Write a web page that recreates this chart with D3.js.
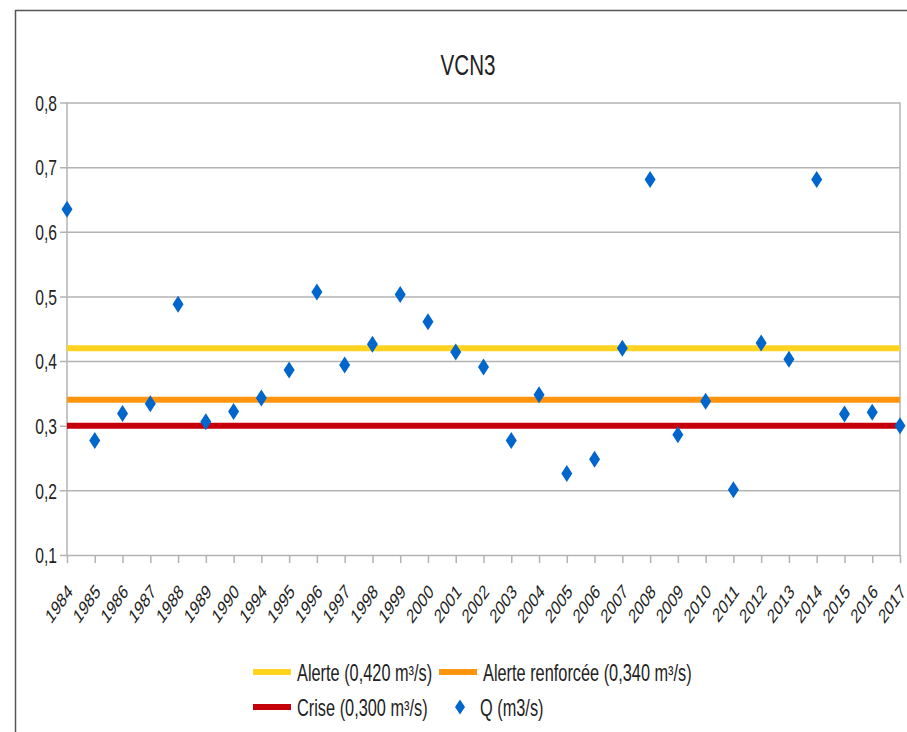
<!DOCTYPE html>
<html>
<head>
<meta charset="utf-8">
<script src="https://cdn.jsdelivr.net/npm/d3@7"></script>
<style>
  body { margin: 0; background: #fff; }
  text { font-family: "Liberation Sans", Arial, sans-serif; fill: #222; }
</style>
</head>
<body>
<div id="chart"></div>
<script>
// categories (years 1991-1993 are missing in the source)
var years = ['1984','1985','1986','1987','1988','1989','1990','1994','1995','1996',
  '1997','1998','1999','2000','2001','2002','2003','2004','2005','2006','2007',
  '2008','2009','2010','2011','2012','2013','2014','2015','2016','2017'];

// Q (m3/s)
var qValues = [0.635,0.277,0.319,0.334,0.488,0.306,0.322,0.343,0.386,0.507,
  0.394,0.426,0.503,0.461,0.414,0.391,0.277,0.348,0.226,0.248,0.420,
  0.681,0.286,0.338,0.201,0.428,0.403,0.681,0.318,0.321,0.300];

// threshold lines
var thresholdNames = ['Alerte (0,420 m³/s)', 'Alerte renforcée (0,340 m³/s)', 'Crise (0,300 m³/s)'];
var thresholdValues = [0.42, 0.34, 0.30];
var thresholdColors = ['#ffd320', '#ff950e', '#c5000b'];

var yTicks = [0.1,0.2,0.3,0.4,0.5,0.6,0.7,0.8];

var width = 907,
    height = 732,
    plot = {left: 67, right: 900, top: 102.5, bottom: 555},
    squeeze = 0.71;   // the source picture is squashed horizontally

var svg = d3.select('#chart')
  .append('svg')
  .attr('width', width)
  .attr('height', height)
  .style('background', '#fff');

var x = d3.scalePoint()
  .domain(years)
  .range([plot.left, plot.right]);

var y = d3.scaleLinear()
  .domain([0.1, 0.8])
  .range([plot.bottom, plot.top]);

function at(px, py) {
  return 'translate(' + px + ',' + py + ') scale(' + squeeze + ',1)';
}

// outer frame (top and left edges only are visible)
svg.append('path')
  .attr('d', 'M15.5,' + height + 'V10.5H' + width)
  .attr('fill', 'none')
  .attr('stroke', '#555')
  .attr('stroke-width', 1.5);

// title
svg.append('text')
  .attr('transform', at(468, 75))
  .attr('text-anchor', 'middle')
  .style('font-size', '29px')
  .text('VCN3');

// horizontal gridlines + y axis labels
var yAxis = d3.axisLeft(y)
  .tickValues(yTicks)
  .tickSize(-(plot.right - plot.left) - 7)
  .tickFormat(function (d) { return d3.format('.1f')(d).replace('.', ','); });

var gy = svg.append('g')
  .attr('transform', 'translate(' + (plot.left - 7) + ',0)')
  .call(yAxis);
gy.select('.domain').remove();
gy.selectAll('.tick line')
  .attr('stroke', '#b3b3b3')
  .attr('stroke-width', 1.5);
gy.selectAll('.tick text')
  .attr('x', 0)
  .attr('dy', '0.35em')
  .attr('transform', at(-3, 0))
  .style('font-size', '22px')
  .style('fill', '#222');

// vertical axis lines (left and right)
svg.append('g').selectAll('line')
  .data([plot.left, plot.right])
  .enter().append('line')
  .attr('x1', function (d) { return d; })
  .attr('x2', function (d) { return d; })
  .attr('y1', plot.top)
  .attr('y2', plot.bottom)
  .attr('stroke', '#b3b3b3')
  .attr('stroke-width', 1.5);

// x axis ticks + rotated labels
var xAxis = d3.axisBottom(x)
  .tickSize(8)
  .tickSizeOuter(0);

var gx = svg.append('g')
  .attr('transform', 'translate(0,' + plot.bottom + ')')
  .call(xAxis);
gx.select('.domain').remove();
gx.selectAll('.tick line')
  .attr('stroke', '#b3b3b3')
  .attr('stroke-width', 1.5);
gx.selectAll('.tick text')
  .attr('y', 0)
  .attr('dy', 0)
  .attr('text-anchor', 'end')
  .attr('transform', at(6, 38) + ' rotate(-45)')
  .style('font-size', '20px')
  .style('fill', '#222');

// threshold lines
svg.append('g').selectAll('line')
  .data(thresholdValues)
  .enter().append('line')
  .attr('x1', plot.left)
  .attr('x2', plot.right)
  .attr('y1', function (d) { return y(d); })
  .attr('y2', function (d) { return y(d); })
  .attr('stroke', function (d, i) { return thresholdColors[i]; })
  .attr('stroke-width', 6);

// diamond marker, taller than wide as in the source
function diamond(cx, cy, w, h) {
  return 'M' + cx + ',' + (cy - h / 2) + 'L' + (cx + w / 2) + ',' + cy +
    'L' + cx + ',' + (cy + h / 2) + 'L' + (cx - w / 2) + ',' + cy + 'Z';
}

svg.append('g').selectAll('path')
  .data(qValues)
  .enter().append('path')
  .attr('d', function (d, i) { return diamond(x(years[i]), y(d), 11, 17); })
  .attr('fill', '#0066cc');

// legend
var legend = svg.append('g').attr('class', 'legend');
var legendItems = [
  {name: thresholdNames[0], color: thresholdColors[0], lx: 253, ly: 672, type: 'line'},
  {name: thresholdNames[1], color: thresholdColors[1], lx: 439, ly: 672, type: 'line'},
  {name: thresholdNames[2], color: thresholdColors[2], lx: 253, ly: 707, type: 'line'},
  {name: 'Q (m3/s)', color: '#0066cc', lx: 450, ly: 707, type: 'diamond'}
];

legendItems.forEach(function (item) {
  if (item.type === 'line') {
    legend.append('line')
      .attr('x1', item.lx)
      .attr('x2', item.lx + 38)
      .attr('y1', item.ly)
      .attr('y2', item.ly)
      .attr('stroke', item.color)
      .attr('stroke-width', 6);
    legend.append('text')
      .attr('transform', at(item.lx + 44, item.ly + 9))
      .style('font-size', '23px')
      .text(item.name);
  } else {
    legend.append('path')
      .attr('d', diamond(item.lx + 10, item.ly, 10, 15))
      .attr('fill', item.color);
    legend.append('text')
      .attr('transform', at(item.lx + 30, item.ly + 9))
      .style('font-size', '23px')
      .text(item.name);
  }
});
</script>
</body>
</html>
